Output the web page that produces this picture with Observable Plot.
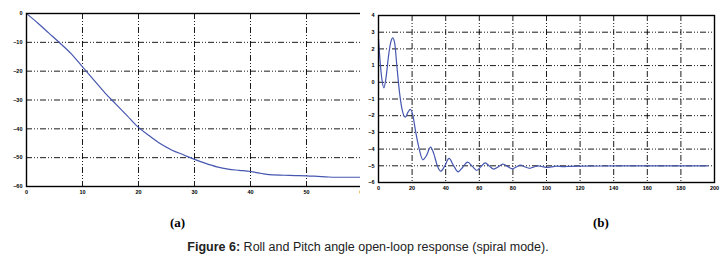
<!DOCTYPE html>
<html><head><meta charset="utf-8">
<script src="https://cdn.jsdelivr.net/npm/d3@7"></script>
<script src="https://cdn.jsdelivr.net/npm/@observablehq/plot@0.6"></script>
<style>
body{margin:0;background:#fff;width:727px;height:257px;overflow:hidden;font-family:"Liberation Sans",Arial,sans-serif;}
#wrap{position:relative;width:727px;height:257px;}
.chart{position:absolute;top:0;}
.lab{position:absolute;font-family:"Liberation Serif","Times New Roman",serif;font-size:13px;font-weight:bold;top:215px;}
#cap{position:absolute;top:240px;left:0;width:736px;text-align:center;font-size:12.5px;color:#222;white-space:nowrap;}
</style></head>
<body><div id="wrap">
<div id="ca" class="chart" style="left:0"></div>
<div id="cb" class="chart" style="left:360px"></div>
<div class="lab" style="left:170px">(a)</div>
<div class="lab" style="left:593px">(b)</div>
<div id="cap"><b>Figure 6:</b> Roll and Pitch angle open-loop response (spiral mode).</div>
</div>
<script>
// Panel (a): roll angle
const aTime = [0,2,4,6,8,10,12,14,16,18,20,22,24,26,28,30,32,34,36,38,40,42,44,46,48,50,52,54,56,58,60];
const aRoll = [0,-3.3,-6.8,-10.3,-14,-18.5,-23,-27.5,-31.5,-35.5,-39.5,-42.5,-45.3,-47.4,-49,-50.6,-52,-53.2,-54,-54.4,-54.8,-55.5,-56,-56.1,-56.2,-56.3,-56.5,-56.7,-56.8,-56.8,-56.8];
const aXTicks = [0,10,20,30,40,50,60];
const aYTicks = [0,-10,-20,-30,-40,-50,-60];
// Panel (b): pitch angle
const bTime = [0,1,2,3.2,4.5,6,7.3,8.5,9.7,11,12.5,14,16,17.5,19,20.5,22,24,26.4,28.5,31,33,35,37,39.5,42,44.5,47.4,50,53,56,58.5,61,63.5,66,68.6,71.5,74,77,79.6,82,84.5,87,90,92.5,95,97.5,100.4,103,106,110,114,120,140,160,196];
const bPitch = [2.6,1.2,0.2,-0.33,0.3,1.6,2.4,2.66,2.3,0.9,-0.6,-1.6,-2.08,-1.8,-1.62,-2.0,-2.9,-3.9,-4.64,-4.4,-3.88,-4.3,-5.0,-5.32,-5.0,-4.56,-4.95,-5.36,-5.1,-4.78,-5.05,-5.28,-5.05,-4.82,-5.02,-5.2,-5.05,-4.9,-5.05,-5.18,-5.07,-4.96,-5.06,-5.15,-5.07,-5.0,-5.05,-5.1,-5.06,-5.02,-5.05,-5.03,-5.02,-5.01,-5.0,-5.0];
const bXTicks = [0,20,40,60,80,100,120,140,160,180,200];
const bYTicks = [4,3,2,1,0,-1,-2,-3,-4,-5,-6];

const lineColor = "#4657b0";
const dash = "6,2,1,2,1,2";

function panel(x, y, xTicks, yTicks, xDom, yDom, opts){
  const data = x.map((v,i)=>({t:v, v:y[i]}));
  const gx = xTicks.slice(1,-1), gy = yTicks.slice(1,-1);
  return Plot.plot({
    width: opts.width, height: opts.height,
    marginLeft: opts.ml, marginRight: opts.mr, marginTop: opts.mt, marginBottom: opts.mb,
    style:{fontFamily:"'Liberation Sans',Arial,sans-serif", fontSize:"5.5px", fontWeight:"bold", background:"#fff"},
    x:{domain:xDom, ticks:xTicks, tickSize:0, tickPadding:4, label:null},
    y:{domain:yDom, ticks:yTicks, tickSize:0, tickPadding:4, label:null},
    marks:[
      Plot.ruleX(gx, {stroke:"#000", strokeWidth:0.9, strokeDasharray:dash}),
      Plot.ruleY(gy, {stroke:"#000", strokeWidth:0.9, strokeDasharray:dash}),
      Plot.line(data, {x:"t", y:"v", stroke:lineColor, strokeWidth:1.2, curve:"monotone-x"}),
      Plot.frame({stroke:"#000", strokeWidth:1.4})
    ]
  });
}

document.getElementById("ca").append(panel(aTime, aRoll, aXTicks, aYTicks, [0,60], [-60,0],
  {width:370, height:200, ml:26, mr:8, mt:13, mb:14}));
document.getElementById("cb").append(panel(bTime, bPitch, bXTicks, bYTicks, [0,200], [-6,4],
  {width:367, height:196, ml:18, mr:13, mt:15, mb:14}));
</script>
</body></html>
